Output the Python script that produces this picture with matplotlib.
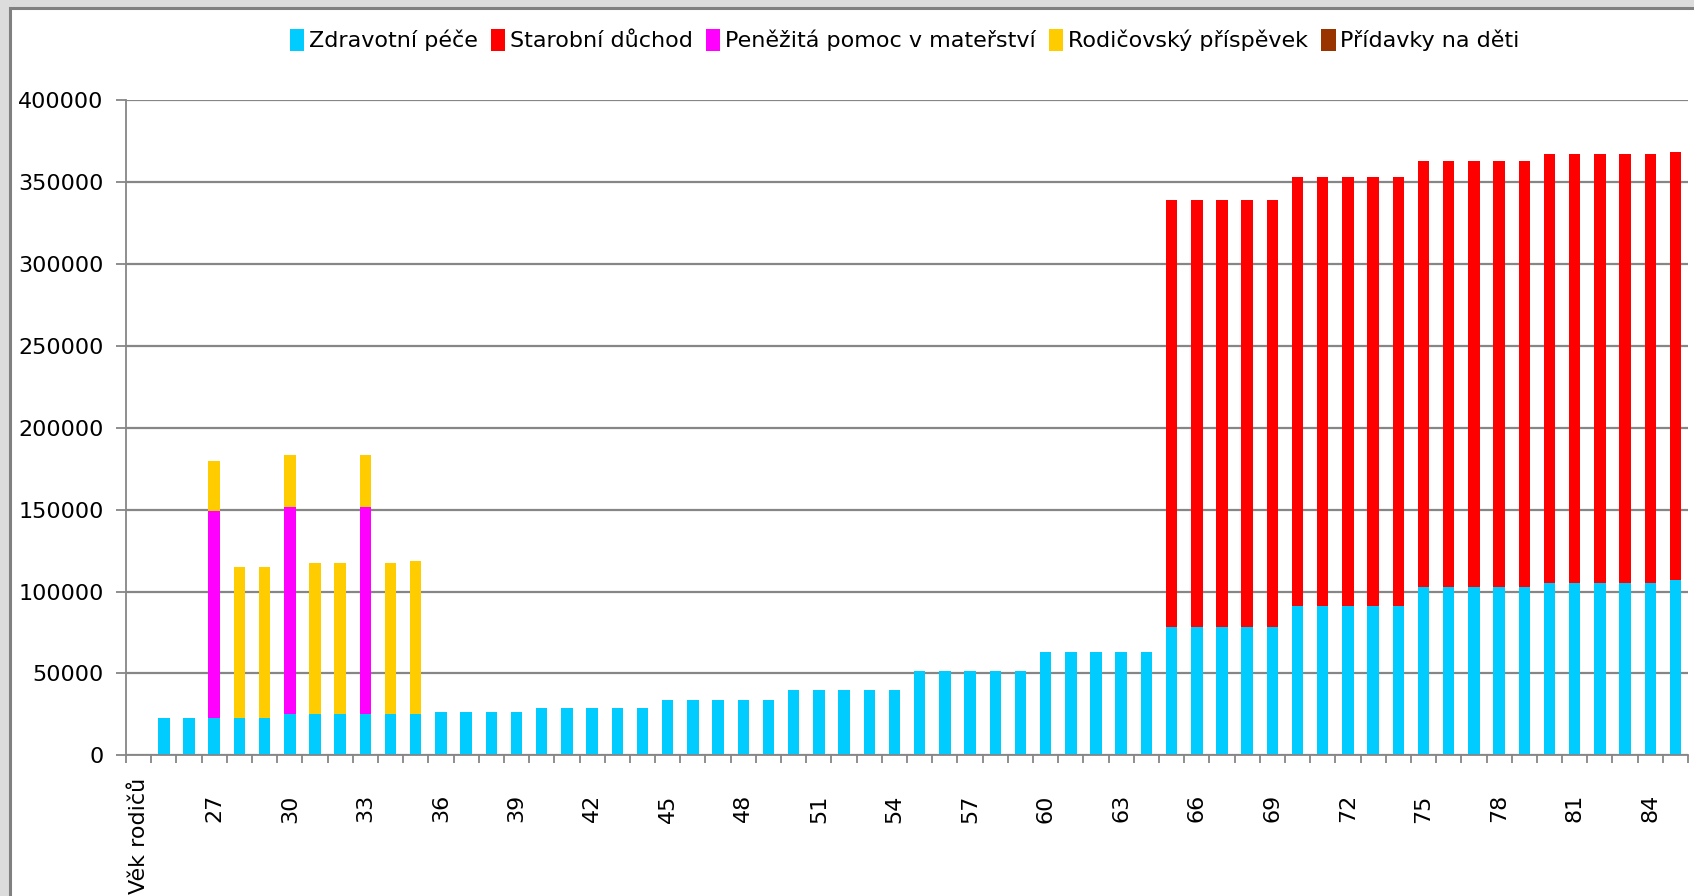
import numpy as np
import matplotlib
matplotlib.use('Agg')
import matplotlib.pyplot as plt
from matplotlib.patches import Rectangle

# first category on the axis carries the axis title, no bar
first_cat = 'Věk rodičů'
ages = list(range(25, 86))

zdravotni = [23000, 23000, 23000, 23000, 23000,
             25500, 25500, 25500, 25500, 25500, 25500,
             26300, 26300, 26300, 26300,
             28800, 28800, 28800, 28800, 28800,
             33800, 33800, 33800, 33800, 33800,
             40000, 40000, 40000, 40000, 40000,
             51500, 51500, 51500, 51500, 51500,
             63000, 63000, 63000, 63000, 63000,
             78600, 78600, 78600, 78600, 78600,
             91500, 91500, 91500, 91500, 91500,
             102500, 102500, 102500, 102500, 102500,
             105500, 105500, 105500, 105500, 105500,
             106800]

starobni = [0] * 40 + [260400, 260400, 260400, 260400, 260400,
                       261600, 261600, 261600, 261600, 261600,
                       260400, 260400, 260400, 260400, 260400,
                       261600, 261600, 261600, 261600, 261600,
                       261600]

materstvi = [0, 0, 126000, 0, 0, 126000, 0, 0, 126000] + [0] * 52

rodicovsky = [0, 0, 30600, 92200, 92200, 32000, 92200, 92200, 32000,
              92200, 93400] + [0] * 50

pridavky = [0] * 61

series = [
  ('Zdravotní péče', zdravotni, '#00CCFF'),
  ('Starobní důchod', starobni, '#FF0000'),
  ('Peněžitá pomoc v mateřství', materstvi, '#FF00FF'),
  ('Rodičovský příspěvek', rodicovsky, '#FFCC00'),
  ('Přídavky na děti', pridavky, '#993300'),
]

GRID = '#868686'
FS = 16

plt.rcParams['font.family'] = ['DejaVu Sans']

fig = plt.figure(figsize=(16.94, 8.96), dpi=100)
fig.patch.set_facecolor('#DCDCDC')
# white chart area with the dark frame line on top/left (screenshot look)
fig.add_artist(Rectangle((9.5 / 1694, -0.1), 1.2, 1.1 - 8.5 / 896,
                         transform=fig.transFigure, facecolor='white',
                         edgecolor='#808080', linewidth=2.2, zorder=-10))

ax = fig.add_axes([0.0744, 0.157, 0.9221, 0.731])
ax.set_facecolor('none')

x = np.arange(1, len(ages) + 1)
bottom = np.zeros(len(ages))
for name, vals, col in series:
  vals = np.array(vals, dtype=float)
  ax.bar(x, vals, width=0.4545, bottom=bottom, color=col, label=name,
         zorder=3, linewidth=0)
  bottom += vals

ax.set_xlim(-0.5, len(ages) + 0.5)
ax.set_ylim(0, 400000)
ax.set_yticks(np.arange(0, 400001, 50000))
ax.set_yticklabels([str(v) for v in range(0, 400001, 50000)], fontsize=FS)
ax.yaxis.grid(True, color=GRID, linewidth=1.6, zorder=0)

# tick marks between categories, labels every third category
ax.set_xticks(np.arange(-0.5, len(ages) + 1, 1.0))
ax.set_xticklabels([])
lab_pos = np.arange(3, len(ages) + 1, 3)
ax.set_xticks(lab_pos, minor=True)
ax.set_xticklabels([str(ages[p - 1]) for p in lab_pos], minor=True,
                   rotation=90, fontsize=FS, va='top')
ax.tick_params(axis='x', which='major', length=6, width=1.3, color=GRID)
ax.tick_params(axis='x', which='minor', length=0, pad=28)
ax.tick_params(axis='y', length=7, width=1.3, color=GRID, pad=9)
ax.annotate(first_cat, xy=(0, 0), xycoords=('data', 'axes fraction'),
            xytext=(0, -16), textcoords='offset points', rotation=90,
            ha='center', va='top', fontsize=FS)

for s in ['top', 'right']:
  ax.spines[s].set_visible(False)
for s in ['left', 'bottom']:
  ax.spines[s].set_color(GRID)
  ax.spines[s].set_linewidth(1.3)
  ax.spines[s].set_zorder(4)

fig.legend(loc='center', bbox_to_anchor=(0.534, 0.955), ncol=5,
           frameon=False, fontsize=FS, handlelength=0.65, handleheight=1.1,
           handletextpad=0.2, columnspacing=0.6)

fig.savefig('out.png', dpi=100, facecolor=fig.get_facecolor())
